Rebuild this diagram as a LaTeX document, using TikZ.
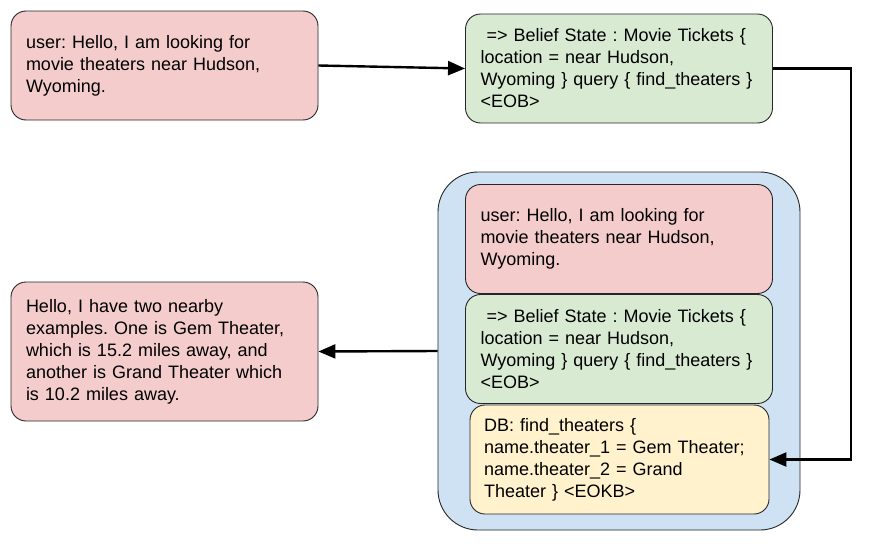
\documentclass[tikz,border=0pt]{standalone}
\usepackage{fontspec}
\setmainfont{Liberation Sans}
\usetikzlibrary{arrows.meta}
\definecolor{turnred}{HTML}{F4CCCC}
\definecolor{turngreen}{HTML}{D9EAD3}
\definecolor{turnyellow}{HTML}{FFF2CC}
\definecolor{turnblue}{HTML}{CFE2F3}
\frenchspacing
\tikzset{
  turn/.style={draw=black!85, line width=0.9pt, rounded corners=15pt, inner xsep=15pt, inner ysep=0pt,
    text width=277pt, minimum height=109pt, align=left,
    font=\fontsize{18}{22}\selectfont},
  conn/.style={line width=2.4pt, -{Triangle[length=17pt,width=14pt]}}
}
\begin{document}
\begin{tikzpicture}[x=1pt,y=-1pt]
				\useasboundingbox (0,0) rectangle (873,546);
				% context container
				\node[draw=black!85, line width=0.9pt, fill=turnblue, rounded corners=40pt,
				  minimum width=362pt, minimum height=358pt] (ctx) at (619,351) {};
				\node[turn, fill=turnred] (user) at (164.5,65.5) {user: Hello, I am looking for\\movie theaters near Hudson,\\Wyoming.};
				\node[turn, fill=turngreen] (belief) at (619,68.5) {\ => Belief State : Movie Tickets \{\\location = near Hudson,\\Wyoming \} query \{ find\_theaters \}\\<EOB>};
				\node[turn, fill=turnred] (ctxuser) at (619,239) {user: Hello, I am looking for\\movie theaters near Hudson,\\Wyoming.};
				\node[turn, fill=turngreen] (ctxbelief) at (619,349) {\ => Belief State : Movie Tickets \{\\location = near Hudson,\\Wyoming \} query \{ find\_theaters \}\\<EOB>};
				\node[turn, fill=turnyellow, text width=271pt, inner xsep=14pt] (db) at (619.5,459.5) {DB: find\_theaters \{\\name.theater\_1 = Gem Theater;\\name.theater\_2 = Grand\\Theater \} <EOKB>};
				\node[turn, fill=turnred, minimum height=139pt] (reply) at (164.5,351.5) {Hello, I have two nearby\\examples. One is Gem Theater,\\which is 15.2 miles away, and\\another is Grand Theater which\\is 10.2 miles away.};
				% connectors
				\draw[conn] (user.east) -- (belief.west);
				\draw[conn] (belief.east) -- ++(78,0) |- (db.east);
				\draw[conn] (ctx.west) -- (reply.east);
\end{tikzpicture}
\end{document}
